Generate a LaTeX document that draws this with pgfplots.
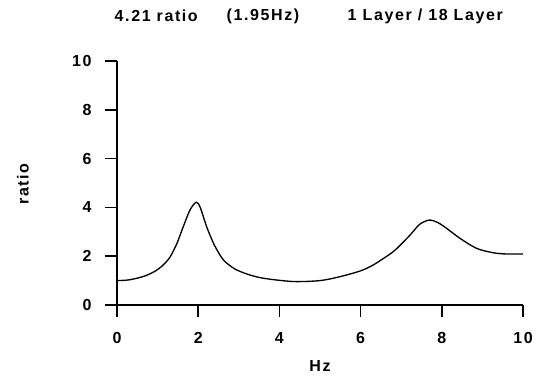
\documentclass[border=0pt]{standalone}
\usepackage{pgfplots}
\pgfplotsset{compat=1.18}
\usepackage{fontspec}
\setmainfont{Liberation Sans}[LetterSpace=10]
\begin{document}
\begin{tikzpicture}
\path[use as bounding box] (0,0) rectangle (404.25pt,281.25pt);
\begin{axis}[
  at={(87.75pt,52.5pt)}, anchor=south west,
  scale only axis, width=304.5pt, height=183pt,
  xmin=0, xmax=10, ymin=0, ymax=10,
  axis lines=left,
  axis line style={-, line width=1.3pt},
  xtick={0,2,4,6,8,10}, ytick={0,2,4,6,8,10},
  tick align=outside, major tick length=9pt,
  tick style={line width=1.3pt, black},
  /pgf/number format/assume math mode=true,
  ticklabel style={font=\fontsize{12}{14}\selectfont\bfseries},
  xticklabel style={yshift=-8pt},
  yticklabel style={xshift=-6.5pt},
  clip=false,
  xlabel={Hz}, ylabel={ratio},
  label style={font=\fontsize{12}{14}\selectfont\bfseries},
  xlabel style={at={(axis description cs:0.5,-0.25)}, anchor=center},
  ylabel style={at={(axis description cs:-0.2315,0.496)}, anchor=center, rotate=0},
]
\addplot[black, line width=1pt, smooth, tension=0.5] coordinates {
(0,1.00) (0.3,1.03) (0.65,1.17) (0.9,1.35) (1.1,1.58) (1.3,1.95) (1.47,2.5)
(1.63,3.2) (1.8,3.9) (1.95,4.21) (2.05,4.0) (2.21,3.2) (2.4,2.45) (2.62,1.85)
(2.9,1.48) (3.2,1.27) (3.5,1.13) (3.85,1.04) (4.38,0.96) (5.0,1.0) (5.49,1.16)
(6.0,1.4) (6.31,1.64) (6.6,1.95) (6.85,2.25) (7.22,2.87) (7.45,3.3) (7.69,3.48)
(7.9,3.38) (8.12,3.14) (8.45,2.73) (8.86,2.32) (9.27,2.14) (9.6,2.09) (10,2.09)
};
\end{axis}
\node[anchor=west, font=\fontsize{12}{14}\selectfont\bfseries] at (82.5pt,269.25pt) {4.21 ratio};
\node[anchor=west, font=\fontsize{12}{14}\selectfont\bfseries] at (166.5pt,269.25pt) {(1.95Hz)};
\node[anchor=west, font=\fontsize{12}{14}\selectfont\bfseries] at (257.25pt,269.25pt) {1 Layer / 18 Layer};
\end{tikzpicture}
\end{document}
